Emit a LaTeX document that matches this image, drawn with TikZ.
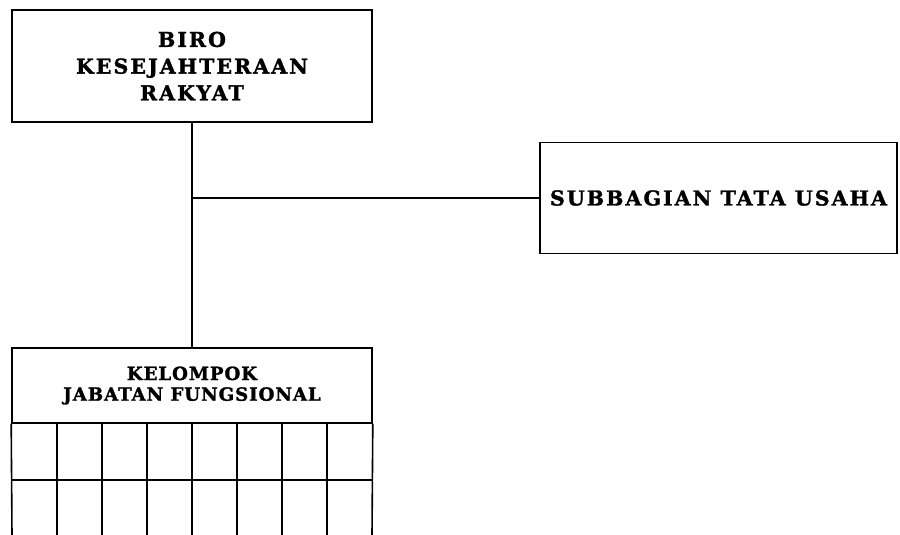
\documentclass[tikz,border=0pt]{standalone}
\usepackage{fontspec}
\setmainfont[BoldFeatures={FakeBold=1.5}]{DejaVu Serif}
\usepackage{tikz}
\usetikzlibrary{positioning}

\tikzset{
    kotak/.style={draw,line width=1.6pt,align=center,inner sep=0pt,font=\fontsize{20.5}{26.7}\selectfont\bfseries\addfontfeatures{LetterSpace=10}},
    garis/.style={line width=1.6pt}
}

\begin{document}
\begin{tikzpicture}[x=1pt,y=-1pt]
        \useasboundingbox (0,0) rectangle (900,535);
        \node[kotak,minimum width=360pt,minimum height=112pt] (biro) at (192,66) {BIRO\\KESEJAHTERAAN\\RAKYAT};
        \node[kotak,minimum width=357pt,minimum height=111pt] (tu) at (718.5,198) {SUBBAGIAN TATA USAHA};
        \node[kotak,minimum width=360pt,minimum height=75pt,font=\fontsize{18.2}{20.7}\selectfont\bfseries\addfontfeatures{LetterSpace=5}] (jf) at (192,385.5) {KELOMPOK\\JABATAN FUNGSIONAL};
        % garis komando
        \draw[garis] (biro.south)--(jf.north);
        \coordinate (cab) at (biro.south|-tu.west);
        \draw[garis] (cab)--(tu.west);
        % kolom jabatan fungsional
        \draw[garis] (jf.south west)--(12,535);
        \draw[garis] (jf.south east)--(372,535);
        \draw[garis] (12,480)--(372,480);
        \foreach \x in {57,102,...,327}
            \draw[garis] (\x,423)--(\x,535);
    \end{tikzpicture}
\end{document}
